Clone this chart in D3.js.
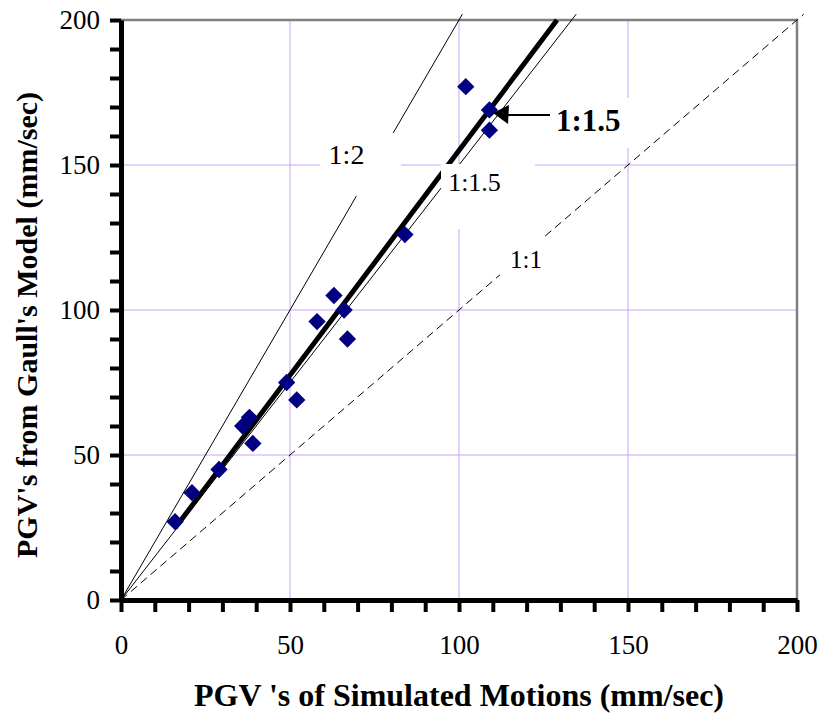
<!DOCTYPE html>
<html>
<head>
<meta charset="utf-8">
<script src="https://cdn.jsdelivr.net/npm/d3@7"></script>
<style>
body { margin: 0; background: #fff; }
svg text { font-family: "Liberation Serif", "Times New Roman", Times, "DejaVu Serif", serif; }
</style>
</head>
<body>
<svg id="chart" width="821" height="715"></svg>
<script>
// simulated PGV (x) vs Gaull's model PGV (y), mm/sec
var simPGV   = [16, 21, 29, 36, 38, 39, 49, 52, 58, 63, 66, 67, 84, 102, 109, 109];
var gaullPGV = [27, 37, 45, 60, 63, 54, 75, 69, 96, 105, 100, 90, 126, 177, 169, 162];

// reference ratio lines (slope of y on x), drawn from origin
var refNames  = ["1:2", "1:1.5", "1:1"];
var refSlopes = [2, 1.5, 1];

// fitted line ends
var fitX = [16, 129];
var fitY = [24.8, 200];

var tickVals = d3.range(0, 201, 10);
var gridVals = [50, 100, 150];
var serif = "'Liberation Serif', 'Times New Roman', Times, 'DejaVu Serif', serif";

var svg = d3.select("#chart");
var margin = {left: 121, top: 20, right: 24, bottom: 115};
var width = 821 - margin.left - margin.right,
    height = 715 - margin.top - margin.bottom;

var x = d3.scaleLinear().domain([0, 200]).range([0, width]);
var y = d3.scaleLinear().domain([0, 200]).range([height, 0]);

var g = svg.append("g").attr("transform", "translate(" + margin.left + "," + margin.top + ")");

// grid
g.selectAll(".vgrid").data(gridVals).enter().append("line")
    .attr("x1", function(d) { return x(d); }).attr("x2", function(d) { return x(d); })
    .attr("y1", 0).attr("y2", height)
    .style("stroke", "#c9a2fb").style("stroke-width", 1);
g.selectAll(".hgrid").data(gridVals).enter().append("line")
    .attr("x1", 0).attr("x2", width)
    .attr("y1", function(d) { return y(d); }).attr("y2", function(d) { return y(d); })
    .style("stroke", "#c9a2fb").style("stroke-width", 1);

// top + right frame
g.append("path")
    .attr("d", "M0," + y(200) + "H" + x(200) + "V" + y(0))
    .style("fill", "none").style("stroke", "#808080").style("stroke-width", 2.5);

// ratio lines
var line = d3.line().x(function(d) { return x(d[0]); }).y(function(d) { return y(d[1]); });
for (var i = 0; i < refSlopes.length; i++) {
    var s = refSlopes[i];
    g.append("path")
        .attr("d", line([[0, 0], [202 / s, 202]]))
        .style("fill", "none").style("stroke", "#000").style("stroke-width", 1)
        .style("stroke-dasharray", s == 1 ? "8,5" : null);
}

// fit line
g.append("path")
    .attr("d", line([[fitX[0], fitY[0]], [fitX[1], fitY[1]]]))
    .style("fill", "none").style("stroke", "#000").style("stroke-width", 5);

// points
var diamond = d3.symbol().type(d3.symbolSquare).size(150);
g.selectAll(".pt").data(simPGV).enter().append("path")
    .attr("d", diamond)
    .attr("transform", function(d, i) { return "translate(" + x(d) + "," + y(gaullPGV[i]) + ") rotate(45)"; })
    .style("fill", "#000080");

// label boxes (white, covering lines) and texts
var labelBox = [[320 - 121, 133 - 20, 81, 63], [441 - 121, 164 - 20, 94, 65], [500 - 121, 238 - 20, 43, 38], [545 - 121, 98 - 20, 95, 50]];
var labelPos = [[346.5, 164], [474.5, 191], [526, 268]];
var labelSize = [28, 26, 25];
for (var i = 0; i < labelBox.length; i++) {
    g.append("rect").attr("x", labelBox[i][0]).attr("y", labelBox[i][1])
        .attr("width", labelBox[i][2]).attr("height", labelBox[i][3]).style("fill", "#fff");
}
for (var i = 0; i < refNames.length; i++) {
    svg.append("text").attr("x", labelPos[i][0]).attr("y", labelPos[i][1])
        .attr("text-anchor", "middle").style("font-family", serif)
        .style("font-size", labelSize[i] + "px")
        .text(refNames[i]);
}
svg.append("text").attr("x", 556).attr("y", 131).style("font-family", serif)
    .style("font-size", "31px").style("font-weight", "bold").text("1:1.5");

// arrow
svg.append("line").attr("x1", 550).attr("y1", 115).attr("x2", 505).attr("y2", 115)
    .style("stroke", "#000").style("stroke-width", 2);
svg.append("path").attr("d", "M493,113 L509,105 L508,124 Z").style("fill", "#000");

// axes
var xAxis = d3.axisBottom(x).tickValues(tickVals).tickSize(12).tickSizeOuter(0)
    .tickFormat(function(d) { return d % 50 == 0 ? d : ""; });
var yAxis = d3.axisLeft(y).tickValues(tickVals).tickSize(11).tickSizeOuter(0)
    .tickFormat(function(d) { return d % 50 == 0 ? d : ""; });

var gx = g.append("g").attr("transform", "translate(0," + height + ")").call(xAxis);
var gy = g.append("g").call(yAxis);

[gx, gy].forEach(function(a) {
    a.attr("font-family", serif);
    a.select(".domain").style("stroke", "#000").style("stroke-width", 5);
    a.selectAll(".tick line").style("stroke", "#000").style("stroke-width", 4);
    a.selectAll("text").style("font-size", "27px").style("fill", "#000")
        .style("font-family", serif);
});
gx.selectAll("text").attr("y", 54).attr("dy", 0);
gy.selectAll("text").attr("x", -21);

// axis titles
svg.append("text").attr("x", margin.left + width / 2).attr("y", 706)
    .attr("text-anchor", "middle").style("font-family", serif)
    .style("font-size", "32px").style("font-weight", "bold")
    .text("PGV 's of Simulated Motions (mm/sec)");
svg.append("text").attr("transform", "translate(37,325) rotate(-90)")
    .attr("text-anchor", "middle").style("font-family", serif)
    .style("font-size", "30px").style("font-weight", "bold")
    .text("PGV's from Gaull's Model (mm/sec)");
</script>
</body>
</html>
